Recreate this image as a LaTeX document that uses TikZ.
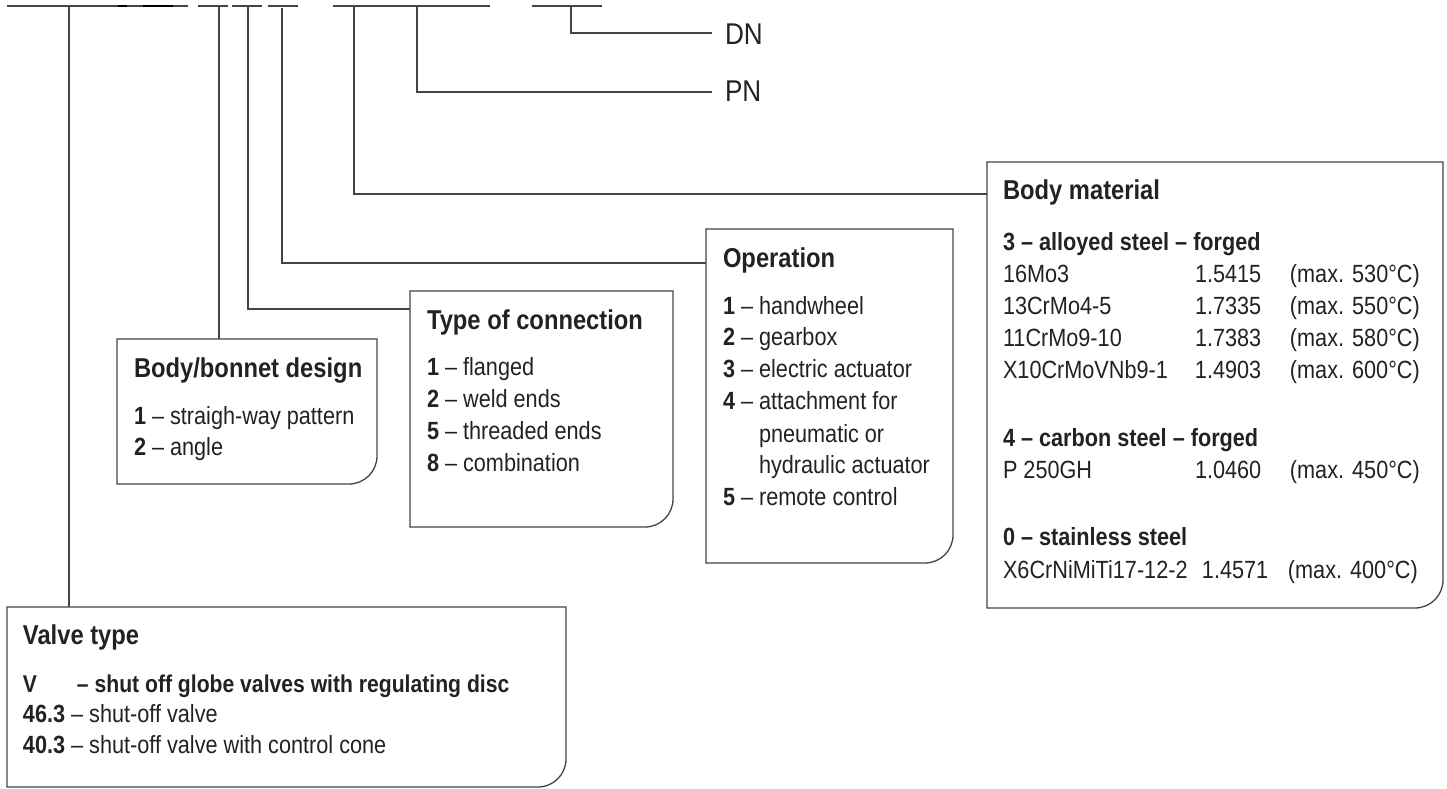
\documentclass[tikz,border=0pt]{standalone}
\usepackage{fontspec}
\setmainfont[FakeStretch=0.87]{Liberation Sans}
\definecolor{ink}{HTML}{222222}
\definecolor{wire}{HTML}{444444}
\newcommand\bodyfont{\fontsize{24.9}{30}\selectfont}
\newcommand\headfont{\fontsize{27.3}{32}\selectfont\bfseries}
\newcommand\vfont{\fontsize{24.3}{30}\selectfont\bfseries}
\newcommand\labfont{\fontsize{30}{36}\selectfont}
\newcommand\matrow[3]{\makebox[192pt][l]{#1}\makebox[95pt][l]{#2}#3}
\newcommand\panelframe[1]{\draw[frame] (#1.north west) -- (#1.north east) -- ([yshift=28pt]#1.south east) arc[start angle=0, end angle=-90, radius=28pt] -- (#1.south west) -- cycle;}
\begin{document}
\begin{tikzpicture}[x=1pt,y=1pt,
  txt/.style={anchor=base west, inner sep=0pt, outer sep=0pt, text=ink, font=\bodyfont},
  head/.style={txt, font=\headfont},
  boldtxt/.style={txt, font=\bodyfont\bfseries},
  lab/.style={txt, font=\labfont},
  frame/.style={draw=wire, line width=1.3pt},
  wireline/.style={draw=wire, line width=1.5pt},
  darkline/.style={draw=black, line width=2.4pt},
  panel/.style={anchor=north west, inner sep=0pt, outer sep=0pt}]
\useasboundingbox (0,0) rectangle (1447,-789);

% panels
\node[panel, minimum width=559pt, minimum height=180pt] (vt) at (7,-607) {};
\node[panel, minimum width=260pt, minimum height=145pt] (bb) at (117,-339) {};
\node[panel, minimum width=263pt, minimum height=236pt] (tc) at (410,-291) {};
\node[panel, minimum width=247pt, minimum height=334pt] (op) at (706,-229) {};
\node[panel, minimum width=456pt, minimum height=446pt] (bm) at (987,-162) {};
\panelframe{vt}
\panelframe{bb}
\panelframe{tc}
\panelframe{op}
\panelframe{bm}

% top bar
\coordinate (s1a) at (7,-6);   \coordinate (s1b) at (188,-6);
\coordinate (s2a) at (198,-6); \coordinate (s2b) at (228,-6);
\coordinate (s3a) at (232,-6); \coordinate (s3b) at (262,-6);
\coordinate (s4a) at (268,-6); \coordinate (s4b) at (298,-6);
\coordinate (s5a) at (333,-6); \coordinate (s5b) at (490,-6);
\coordinate (s6a) at (532,-6); \coordinate (s6b) at (602,-6);
\coordinate (k1a) at (118,-6); \coordinate (k1b) at (127,-6);
\coordinate (k2a) at (143,-6); \coordinate (k2b) at (173,-6);
\draw[wireline] (s1a) -- (s1b);
\draw[wireline] (s2a) -- (s2b);
\draw[wireline] (s3a) -- (s3b);
\draw[wireline] (s4a) -- (s4b);
\draw[wireline] (s5a) -- (s5b);
\draw[wireline] (s6a) -- (s6b);
\draw[darkline] (k1a) -- (k1b);
\draw[darkline] (k2a) -- (k2b);

% drops
\coordinate (d1) at (69,-6);
\coordinate (d2) at (219,-6);
\coordinate (d3) at (248,-6);
\coordinate (d4) at (282,-8);
\coordinate (d5) at (354,-6);
\coordinate (d6) at (417,-6);
\coordinate (d7) at (571,-6);
\coordinate (e3) at (410,-309);
\coordinate (e4) at (706,-263);
\coordinate (e5) at (987,-194);
\coordinate (e6) at (712,-92);
\coordinate (e7) at (712,-33);
\draw[wireline] (d1) -- (d1 |- vt.north);
\draw[wireline] (d2) -- (d2 |- bb.north);
\draw[wireline] (d3) |- (e3);
\draw[wireline] (d4) |- (e4);
\draw[wireline] (d5) |- (e5);
\draw[wireline] (d6) |- (e6);
\draw[wireline] (d7) |- (e7);

\node[lab] (dn) at (725,-45) {DN};
\node[lab] (pn) at (725,-102) {PN};

% valve type
\node[head] (vth) at (23,-644) {Valve type};
\node[txt, font=\vfont] (vt0) at (23,-692) {\makebox[54pt][l]{V}– shut off globe valves with regulating disc};
\node[txt] (vt1) at (23,-722) {\textbf{46.3} – shut-off valve};
\node[txt] (vt2) at (23,-753) {\textbf{40.3} – shut-off valve with control cone};

% body/bonnet
\node[head] (bbh) at (134,-377) {Body/bonnet design};
\node[txt] (bb1) at (134,-424) {\textbf{1} – straigh-way pattern};
\node[txt] (bb2) at (134,-455) {\textbf{2} – angle};

% type of connection
\node[head] (tch) at (427,-329) {Type of connection};
\node[txt] (tc1) at (427,-375) {\textbf{1} – flanged};
\node[txt] (tc2) at (427,-407) {\textbf{2} – weld ends};
\node[txt] (tc3) at (427,-439) {\textbf{5} – threaded ends};
\node[txt] (tc4) at (427,-471) {\textbf{8} – combination};

% operation
\node[head] (oph) at (723,-267) {Operation};
\node[txt] (op1) at (723,-314) {\textbf{1} – handwheel};
\node[txt] (op2) at (723,-345) {\textbf{2} – gearbox};
\node[txt] (op3) at (723,-377) {\textbf{3} – electric actuator};
\node[txt] (op4) at (723,-409) {\textbf{4} – attachment for};
\node[txt] (op4b) at (759,-442) {pneumatic or};
\node[txt] (op4c) at (759,-473) {hydraulic actuator};
\node[txt] (op5) at (723,-505) {\textbf{5} – remote control};

% body material
\node[head] (bmh) at (1003,-199) {Body material};
\node[boldtxt] (bm3) at (1003,-250) {3 – alloyed steel – forged};
\node[txt] (bm3a) at (1003,-282) {\matrow{16Mo3}{1.5415}{(max. 530°C)}};
\node[txt] (bm3b) at (1003,-314) {\matrow{13CrMo4-5}{1.7335}{(max. 550°C)}};
\node[txt] (bm3c) at (1003,-346) {\matrow{11CrMo9-10}{1.7383}{(max. 580°C)}};
\node[txt] (bm3d) at (1003,-378) {\matrow{X10CrMoVNb9-1}{1.4903}{(max. 600°C)}};
\node[boldtxt] (bm4) at (1003,-446) {4 – carbon steel – forged};
\node[txt] (bm4a) at (1003,-478) {\matrow{P 250GH}{1.0460}{(max. 450°C)}};
\node[boldtxt] (bm0) at (1003,-545) {0 – stainless steel};
\node[txt] (bm0a) at (1003,-578) {\makebox[199pt][l]{X6CrNiMiTi17-12-2}\makebox[86pt][l]{1.4571}(max. 400°C)};
\end{tikzpicture}
\end{document}
